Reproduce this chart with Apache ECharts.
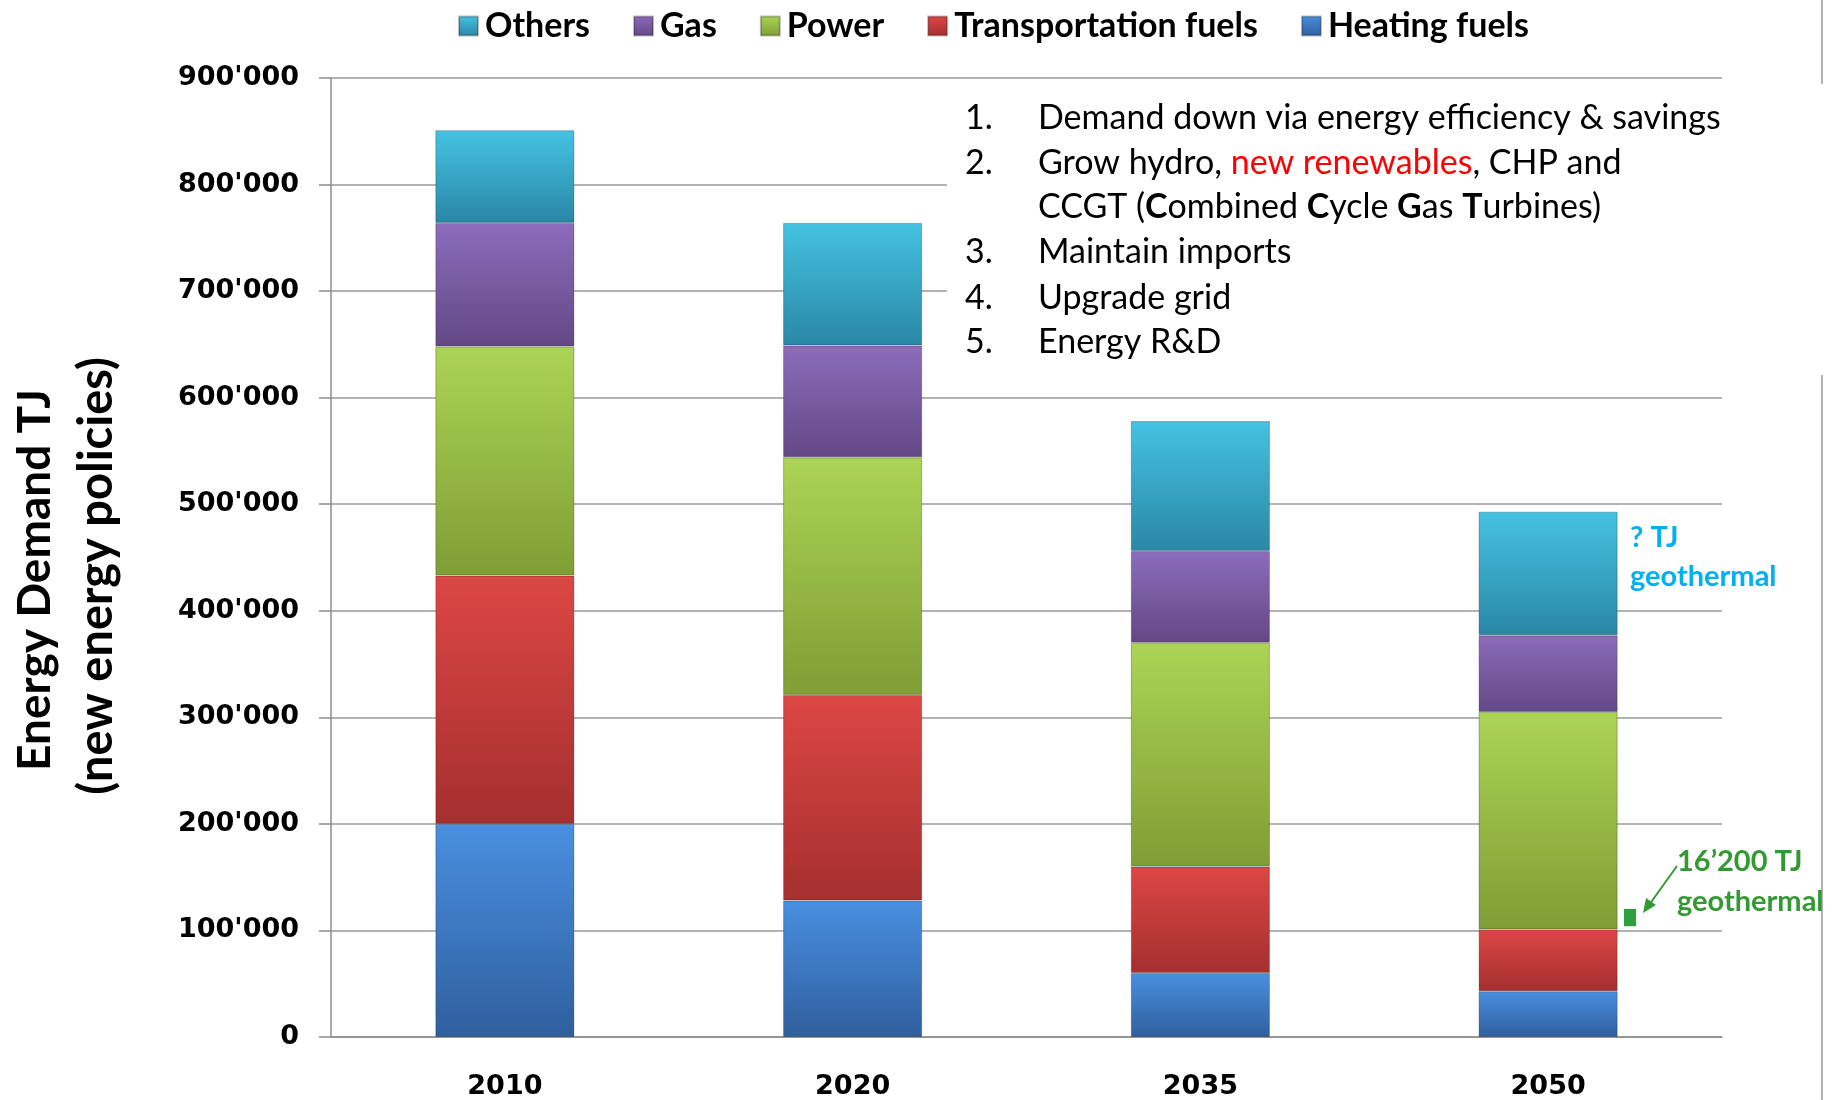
<!DOCTYPE html>
<html>
<head>
<meta charset="utf-8">
<title>Energy Demand TJ</title>
<script src="https://cdn.jsdelivr.net/npm/echarts@6/dist/echarts.min.js"></script>
<style>
  html, body { margin: 0; padding: 0; background: #fff; }
  #chart { width: 1837px; height: 1100px; }
</style>
</head>
<body>
<div id="chart"></div>
<script>
// categories and stacked values (TJ)
const years = ['2010', '2020', '2035', '2050']
const heatingFuels = [200000, 128000, 60000, 43000]
const transportFuels = [233000, 193000, 100000, 58000]
const power = [215000, 223000, 210000, 204000]
const gas = [116000, 105000, 86000, 72000]
const others = [87000, 115000, 122000, 116000]
// geothermal marker next to 2050: [category index, base, height]
const geothermal = [[3, 104000, 16200]]
const legendOrder = ['Others', 'Gas', 'Power', 'Transportation fuels', 'Heating fuels']

const chart = echarts.init(document.getElementById('chart'))

function grad(top, bottom) {
  return new echarts.graphic.LinearGradient(0, 0, 0, 1, [
    { offset: 0, color: top },
    { offset: 1, color: bottom }
  ])
}

function barSeries(name, data, top, bottom) {
  return {
    name: name,
    type: 'bar',
    stack: 'demand',
    barWidth: '40%',
    data: data,
    itemStyle: {
      color: grad(top, bottom),
      borderColor: 'rgba(0,0,0,0.25)',
      borderWidth: 1
    }
  }
}

function fmt(v) {
  return String(v).replace(/\B(?=(\d{3})+(?!\d))/g, "'")
}

// one line of the numbered list
function listText(x, y, text, rich) {
  return {
    type: 'text', x: x, y: y, z: 10,
    style: { text: text, fontFamily: 'Lato', fontSize: 34, fill: '#000', textVerticalAlign: 'middle', rich: rich || {} }
  }
}

function note(x, y, text, color) {
  return {
    type: 'text', x: x, y: y, z: 10,
    style: { text: text, fontFamily: 'Lato', fontWeight: 'bold', fontSize: 29, fill: color, textVerticalAlign: 'middle' }
  }
}

chart.setOption({
  animation: false,
  legend: {
    data: legendOrder,
    top: 4,
    left: 453,
    itemWidth: 19,
    itemHeight: 19,
    itemGap: 43,
    icon: 'rect',
    textStyle: { fontFamily: 'Lato', fontWeight: 'bold', fontSize: 34, color: '#000', padding: [0, 0, 0, 2] }
  },
  grid: { left: 331, right: 115, top: 78, bottom: 62 },
  xAxis: {
    type: 'category',
    data: years,
    axisLine: { lineStyle: { color: '#8c8c8c', width: 1.5 } },
    axisTick: { length: 10, lineStyle: { color: '#8c8c8c', width: 1.5 } },
    axisLabel: { margin: 36, fontFamily: 'DejaVu Sans', fontWeight: 'bold', fontSize: 27, color: '#000' }
  },
  yAxis: {
    type: 'value',
    min: 0,
    max: 900000,
    interval: 100000,
    axisLine: { show: true, lineStyle: { color: '#8c8c8c', width: 1.5 } },
    axisTick: { show: true, length: 12, lineStyle: { color: '#8c8c8c', width: 1.5 } },
    splitLine: { lineStyle: { color: '#9a9a9a', width: 1.5 } },
    axisLabel: { margin: 32, formatter: fmt, fontFamily: 'DejaVu Sans', fontWeight: 'bold', fontSize: 27, color: '#000' }
  },
  series: [
    barSeries('Heating fuels', heatingFuels, '#4a8fe0', '#2f5f9e'),
    barSeries('Transportation fuels', transportFuels, '#dc4744', '#a52f2f'),
    barSeries('Power', power, '#acd455', '#7f9e35'),
    barSeries('Gas', gas, '#8c6cbc', '#634885'),
    barSeries('Others', others, '#45c2e2', '#2a87a6'),
    {
      name: 'geothermal',
      type: 'custom',
      data: geothermal,
      encode: { x: 0, y: 1 },
      renderItem: function (params, api) {
        const base = api.coord([api.value(0), api.value(1)])
        const top = api.coord([api.value(0), api.value(1) + api.value(2)])
        const w = api.size([1, 0])[0]
        return {
          type: 'rect',
          shape: { x: base[0] + w * 0.218, y: top[1], width: w * 0.035, height: base[1] - top[1] },
          style: { fill: '#2e9e3e' }
        }
      }
    }
  ],
  graphic: [
    // axis title
    { type: 'text', x: 35, y: 580, rotation: Math.PI / 2,
      style: { text: 'Energy Demand TJ', fontFamily: 'Lato', fontWeight: 'bold', fontSize: 46, fill: '#000', textAlign: 'center', textVerticalAlign: 'middle' } },
    { type: 'text', x: 97, y: 576, rotation: Math.PI / 2,
      style: { text: '(new energy policies)', fontFamily: 'Lato', fontWeight: 'bold', fontSize: 47, fill: '#000', textAlign: 'center', textVerticalAlign: 'middle' } },
    // right border line
    { type: 'line', z: 1, shape: { x1: 1822, y1: 0, x2: 1822, y2: 1100 }, style: { stroke: '#9a9a9a', lineWidth: 1.5 } },
    // white box behind the list
    { type: 'rect', z: 2, shape: { x: 947, y: 84, width: 890, height: 291 }, style: { fill: '#fff' } },
    listText(965, 118, '1.'),
    listText(1038, 118, 'Demand down via energy efficiency & savings'),
    listText(965, 163, '2.'),
    listText(1038, 163, 'Grow hydro, {r|new renewables}, CHP and', {
      r: { fill: '#ff0000', fontFamily: 'Lato', fontSize: 34 }
    }),
    listText(1038, 207, 'CCGT ({b|C}ombined {b|C}ycle {b|G}as {b|T}urbines)', {
      b: { fontWeight: 'bold', fontFamily: 'Lato', fontSize: 34, fill: '#000' }
    }),
    listText(965, 252, '3.'),
    listText(1038, 252, 'Maintain imports'),
    listText(965, 298, '4.'),
    listText(1038, 298, 'Upgrade grid'),
    listText(965, 342, '5.'),
    listText(1038, 342, 'Energy R&D'),
    // geothermal notes
    note(1630, 538, '? TJ', '#00b0f0'),
    note(1630, 577, 'geothermal', '#00b0f0'),
    note(1677, 862, '16\u2019200 TJ', '#339933'),
    note(1677, 902, 'geothermal', '#339933'),
    { type: 'polyline', z: 10, shape: { points: [[1677, 866], [1649, 905]] }, style: { stroke: '#339933', lineWidth: 2 } },
    { type: 'polygon', z: 10, shape: { points: [[1643, 913], [1656, 905], [1646, 898]] }, style: { fill: '#339933' } }
  ]
})
</script>
</body>
</html>
